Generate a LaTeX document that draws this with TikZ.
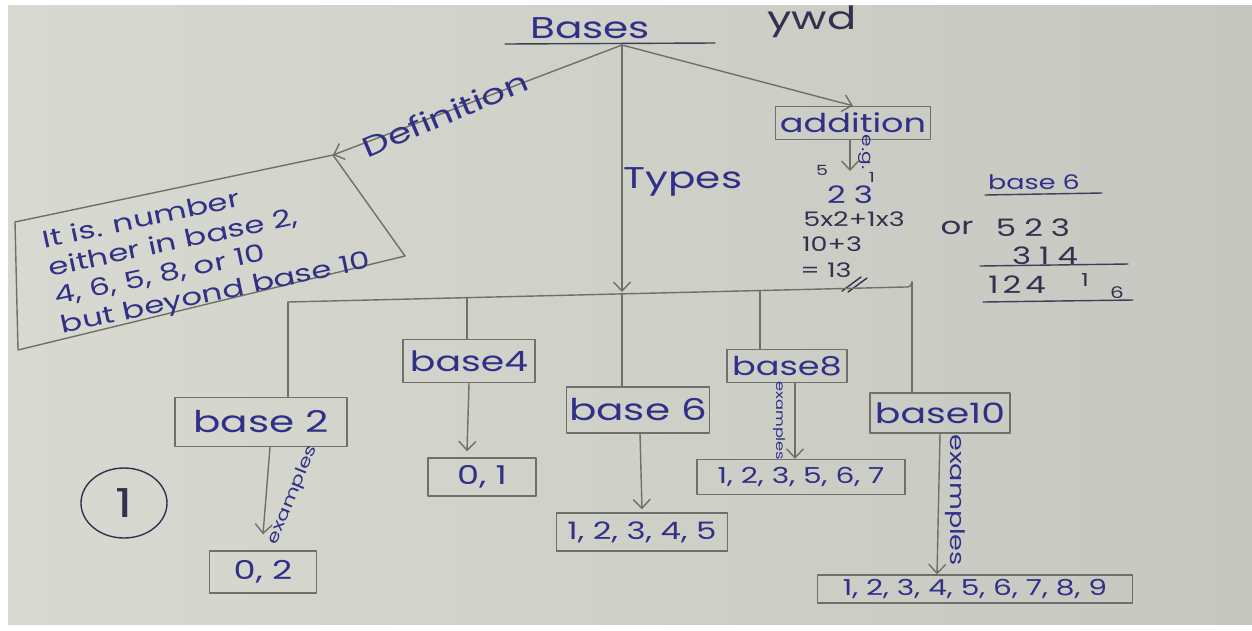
\documentclass[tikz,border=0pt]{standalone}
\usepackage{fontspec}
\setmainfont{Poppins}
\newfontfamily\hand[FakeStretch=1.35]{Poppins}
\usetikzlibrary{arrows.meta,shapes.geometric}
\definecolor{paper}{RGB}{216,217,208}
\definecolor{paperdark}{RGB}{198,199,192}
\definecolor{ink}{RGB}{48,48,135}
\definecolor{darkink}{RGB}{50,50,80}
\definecolor{pencil}{RGB}{112,112,106}
\newcommand{\hw}[1]{\fontsize{#1}{#1}\selectfont\hand}
\newcommand{\hwl}[2]{\fontsize{#1}{#2}\selectfont\hand}

\begin{document}
\begin{tikzpicture}[x=1pt,y=-1pt,
  pen/.style={draw=pencil,line width=1.4pt,line cap=round,line join=round},
  arr/.style={pen,-{Straight Barb[length=9pt,width=17pt,line width=1.4pt]}},
  box/.style={pen,rectangle,inner sep=0pt,text=ink},
  lbl/.style={text=ink,inner sep=0pt},
  sum/.style={text=darkink,inner sep=0pt},
]
\useasboundingbox (0,0) rectangle (1252,630);
% paper
\fill[white] (0,0) rectangle (1252,630);
\shade[left color=paper,right color=paperdark] (8,5) rectangle (1252,624);

% title
\node[lbl,font=\hw{30}] (bases) at (590,28) {Bases};
\draw[pen,draw=darkink!80!pencil] (505,44) coordinate (ulA) -- (715,43) coordinate (ulB);
\coordinate (root) at (622,45);
\node[lbl,font=\hw{32},text=darkink] (wd) at (812,22) {ywd};

% definition branch
\coordinate (dTL) at (15,222);
\coordinate (dTR) at (333,155);
\coordinate (dBR) at (405,256);
\coordinate (dBL) at (18,350);
\draw[pen] (dTL) -- (dTR) -- (dBR) -- (dBL) -- cycle;
\node[lbl,font=\hwl{24}{29},rotate=12,align=left] (deftext) at (207,252)
  {It is. number\\either in base 2,\\4, 6, 5, 8, or 10\\but beyond base 10};
\draw[arr] (root) -- (dTR);
\node[lbl,font=\hw{28},rotate=23] (deflbl) at (445,114) {Definition};

% types branch
\coordinate (busT) at (622,292);
\draw[arr] (root) -- (busT);
\node[lbl,font=\hw{30}] (types) at (683,182) {Types};

% addition branch
\node[box,minimum width=155pt,minimum height=33pt,font=\hw{26}] (add) at (853,123) {addition};
\draw[arr] (root) -- (add.north);
\coordinate (eg) at (850,171);
\draw[arr] ([xshift=-3pt]add.south) -- (eg);
\node[lbl,font=\hw{15},rotate=-90] (eglbl) at (865,152) {e.g.};
\node[sum,font=\hw{14}] (p5) at (822,170) {5};
\node[sum,font=\hw{14}] (p1) at (872,177) {1};
\node[lbl,font=\hw{24}] (n23) at (850,195) {2\,\,3};
\node[sum,font=\hw{20}] (s1) at (854,219) {5x2+1x3};
\node[sum,font=\hw{20}] (s2) at (832,244) {10+3};
\node[sum,font=\hw{20}] (s3) at (826,270) {= 13};
\draw[pen,draw=darkink] (842,291) -- (861,277) (848,292) -- (867,278);

% base 6 sum
\node[lbl,font=\hw{20}] (b6) at (1034,182) {base 6};
\draw[pen,draw=darkink!80!pencil] (985,195) -- (1102,193);
\node[sum,font=\hw{24}] (or) at (957,228) {or};
\node[sum,font=\hw{24}] (r1) at (1033,228) {5\,\,2\,\,3};
\node[sum,font=\hw{24}] (r2) at (1045,256) {3\,\,1\,\,4};
\draw[pen,draw=darkink!80!pencil] (980,266) -- (1128,264);
\node[sum,font=\hw{24}] (r3) at (1017,285) {1\,2\,4};
\node[sum,font=\hw{18}] (r4) at (1085,280) {1};
\node[sum,font=\hw{16}] (r5) at (1117,293) {6};
\draw[pen,draw=darkink!80!pencil] (983,302) -- (1133,300);

% type boxes
\node[box,minimum width=172pt,minimum height=49pt,font=\hw{30}] (base2) at (261,422) {base 2};
\node[box,minimum width=132pt,minimum height=43pt,font=\hw{28}] (base4) at (469,361) {base4};
\node[box,minimum width=143pt,minimum height=46pt,font=\hw{30}] (base6) at (638,410) {base 6};
\node[box,minimum width=120pt,minimum height=33pt,font=\hw{26}] (base8) at (787,366) {base8};
\node[box,minimum width=140pt,minimum height=40pt,font=\hw{28}] (base10) at (940,413) {base10};

% example boxes
\node[box,minimum width=107pt,minimum height=42pt,font=\hw{26}] (ex2) at (263,572) {0, 2};
\node[box,minimum width=108pt,minimum height=38pt,font=\hw{26}] (ex4) at (482,477) {0, 1};
\node[box,minimum width=171pt,minimum height=38pt,font=\hw{24}] (ex6) at (642,532) {1, 2, 3, 4, 5};
\node[box,minimum width=208pt,minimum height=35pt,font=\hw{22}] (ex8) at (801,477) {1, 2, 3, 5, 6, 7};
\node[box,minimum width=315pt,minimum height=28pt,font=\hw{22}] (ex10) at (975,589) {1, 2, 3, 4, 5, 6, 7, 8, 9};

% bus and drops
\coordinate (busL) at (288,302);
\coordinate (busR) at (905,287);
\coordinate (j4) at (467,298);
\coordinate (j6) at (622,294);
\coordinate (j8) at (760,291);
\coordinate (j10) at (912,282);
\draw[pen] (busL) -- (busR) .. controls (910,287) .. (j10);
\draw[pen] (busL) -- (busL |- base2.north);
\draw[pen] (j4) -- (j4 |- base4.north);
\draw[pen] (j6) -- (j6 |- base6.north);
\draw[pen] (j8) -- (j8 |- base8.north);
\draw[pen] (j10) -- (j10 |- base10.north);

% example arrows
\draw[arr] ([xshift=9pt]base2.south) -- ([yshift=16pt]ex2.north);
\draw[arr] (base4.south) -- ([xshift=-15pt,yshift=6pt]ex4.north);
\draw[arr] ([xshift=2pt]base6.south) -- ([yshift=3pt]ex6.north);
\draw[arr] ([xshift=8pt]base8.south) -- ([xshift=-6pt]ex8.north);
\draw[arr] (base10.south) -- ([xshift=-38pt]ex10.north);
\node[lbl,font=\hw{16},rotate=68] (x2) at (293,495) {examples};
\node[lbl,font=\hw{12},rotate=-90] (x8) at (779,421) {examples};
\node[lbl,font=\hw{20},rotate=-90] (x10) at (955,500) {examples};

% page number
\node[draw=darkink,line width=1.4pt,ellipse,minimum width=86pt,minimum height=70pt,text=darkink,font=\hw{40}] (one) at (124,503) {1};
\end{tikzpicture}
\end{document}
